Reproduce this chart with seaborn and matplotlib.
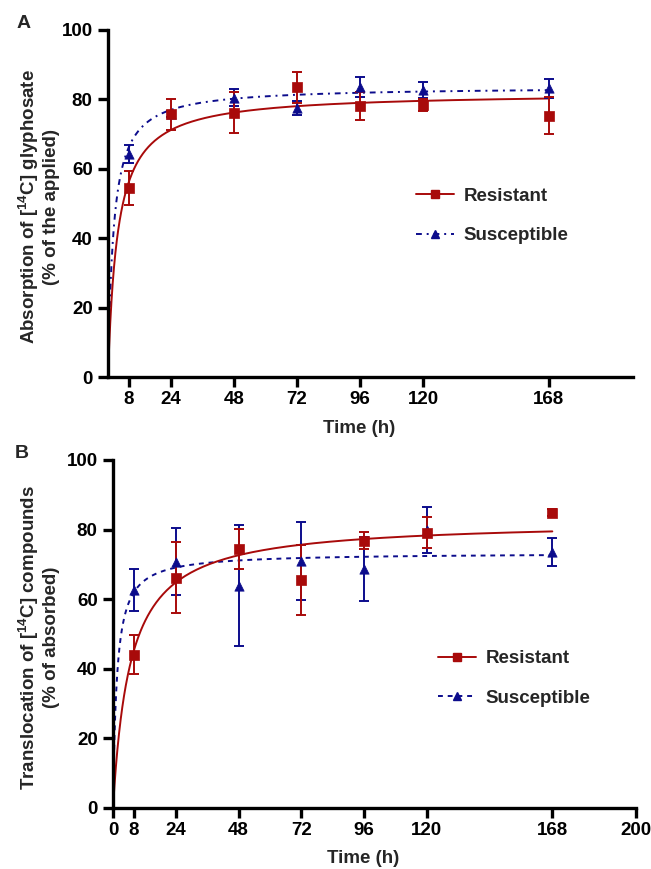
import matplotlib
matplotlib.use("Agg")
import matplotlib.pyplot as plt
from matplotlib.lines import Line2D
import seaborn as sns
import numpy as np
import pandas as pd

# --- données ---
time_h = [8, 24, 48, 72, 96, 120, 168]

absorb_res = [54.6, 75.7, 76.2, 83.5, 78.1, 78.4, 75.3]
absorb_res_err = [4.9, 4.4, 5.8, 4.5, 3.9, 1.8, 5.4]
absorb_sus = [64.3, 75.8, 80.5, 77.5, 83.5, 82.7, 83.2]
absorb_sus_err = [2.5, 1.0, 2.5, 2.0, 2.9, 2.2, 2.8]

transl_res = [44.1, 66.2, 74.4, 65.6, 76.8, 79.1, 84.9]
transl_res_err = [5.6, 10.2, 5.8, 10.0, 2.5, 4.5, 1.0]
transl_sus = [62.6, 70.8, 63.9, 71.0, 68.8, 80.0, 73.6]
transl_sus_err = [6.1, 9.7, 17.4, 11.2, 9.2, 6.6, 4.1]

# paramètres de l'ajustement hyperbolique y = Ymax * t / (K + t)
absorb_res_fit = (82.0, 3.64)
absorb_sus_fit = (83.7, 2.09)
transl_res_fit = (82.6, 6.59)
transl_sus_fit = (73.3, 1.46)

ticks_a = [8, 24, 48, 72, 96, 120, 168]
ticks_b = [0, 8, 24, 48, 72, 96, 120, 168, 200]

RED = "#a80a0a"
BLUE = "#0c0c8c"

sns.set_theme(style="ticks")
plt.rcParams['font.family'] = ['Liberation Sans', 'DejaVu Sans']
plt.rcParams['font.weight'] = 'bold'
plt.rcParams['axes.labelweight'] = 'bold'
plt.rcParams['mathtext.fontset'] = 'custom'
plt.rcParams['mathtext.rm'] = 'Liberation Sans:bold'
plt.rcParams['mathtext.it'] = 'Liberation Sans:bold'
plt.rcParams['mathtext.bf'] = 'Liberation Sans:bold'
plt.rcParams['mathtext.default'] = 'rm'


def fit_curve(params):
    ymax, k = params
    t = np.concatenate([[0.0], np.geomspace(0.01, 168, 400)])
    return pd.DataFrame({"t": t, "y": ymax * t / (k + t)})


def draw_panel(ax, res, res_err, sus, sus_err, res_fit, sus_fit, sus_dash, ticks,
               ylabel, label_x, xlabel_y):
    # courbes ajustées
    sns.lineplot(data=fit_curve(sus_fit), x="t", y="y", ax=ax, color=BLUE,
                 linewidth=1.4, dashes=False, linestyle=sus_dash)
    sns.lineplot(data=fit_curve(res_fit), x="t", y="y", ax=ax, color=RED,
                 linewidth=1.4)

    # barres d'erreur + points
    ax.errorbar(time_h, sus, yerr=sus_err, fmt="none", ecolor=BLUE,
                elinewidth=1.4, capsize=3.5, capthick=1.4)
    sns.scatterplot(x=time_h, y=sus, ax=ax, color=BLUE, marker="^",
                    s=45, edgecolor=BLUE, linewidth=0.5, zorder=4)
    ax.errorbar(time_h, res, yerr=res_err, fmt="none", ecolor=RED,
                elinewidth=1.4, capsize=3.5, capthick=1.4)
    sns.scatterplot(x=time_h, y=res, ax=ax, color=RED, marker="s",
                    s=45, edgecolor=RED, linewidth=0.5, zorder=5)

    ax.set_xlim(0, 200)
    ax.set_ylim(0, 100)
    ax.set_xticks(ticks)
    ax.set_yticks([0, 20, 40, 60, 80, 100])
    ax.set_xlabel("Time (h)", fontsize=13.5, fontweight="bold")
    ax.set_ylabel(ylabel, fontsize=13.5, fontweight="bold", linespacing=1.15)
    ax.yaxis.set_label_coords(label_x, 0.49)
    ax.xaxis.set_label_coords(0.478, xlabel_y)
    sns.despine(ax=ax)
    for s in ["left", "bottom"]:
        ax.spines[s].set_linewidth(2.4)
        ax.spines[s].set_color("black")
    ax.tick_params(axis="both", length=7, width=2.4, color="black",
                   labelsize=13.5, labelcolor="black")
    ax.tick_params(axis="x", pad=3)
    ax.tick_params(axis="y", pad=4)
    for lab in ax.get_xticklabels() + ax.get_yticklabels():
        lab.set_fontweight("bold")


fig = plt.figure(figsize=(6.51, 8.69), dpi=100)
ax_a = fig.add_axes([108 / 651, 1 - 377 / 869, 525 / 651, 347 / 869])
ax_b = fig.add_axes([113 / 651, 1 - 808 / 869, 523 / 651, 348 / 869])

draw_panel(ax_a, absorb_res, absorb_res_err, absorb_sus, absorb_sus_err,
           absorb_res_fit, absorb_sus_fit, (0, (3, 2.5, 1, 2.5)), ticks_a,
           "Absorption of [$^{14}$C] glyphosate\n(% of the applied)", -0.092, -0.124)
draw_panel(ax_b, transl_res, transl_res_err, transl_sus, transl_sus_err,
           transl_res_fit, transl_sus_fit, (0, (2.5, 2.5)), ticks_b,
           "Translocation of [$^{14}$C] compounds\n(% of absorbed)", -0.101, -0.122)

# légendes
for ax, x0, yc, dash in [(ax_a, 416, 216, (0, (3, 2.5, 1, 2.5))),
                         (ax_b, 438, 678.5, (0, (2.5, 2.5)))]:
    handles = [
        Line2D([], [], color=RED, linewidth=1.4, marker="s", markersize=6),
        Line2D([], [], color=BLUE, linewidth=1.4, linestyle=dash, marker="^", markersize=6),
    ]
    ax.legend(handles, ["Resistant", "Susceptible"], loc="center left",
              bbox_to_anchor=(x0 / 651, 1 - yc / 869), bbox_transform=fig.transFigure,
              frameon=False, borderpad=0, borderaxespad=0, handlelength=2.0,
              handletextpad=0.55, labelspacing=1.2,
              prop={"size": 13.5, "weight": "bold"})

fig.text(24 / 651, 1 - 23 / 869, "A", fontsize=14, fontweight="bold", ha="center", va="center")
fig.text(22 / 651, 1 - 453 / 869, "B", fontsize=14, fontweight="bold", ha="center", va="center")

fig.savefig("out.png", dpi=100)
